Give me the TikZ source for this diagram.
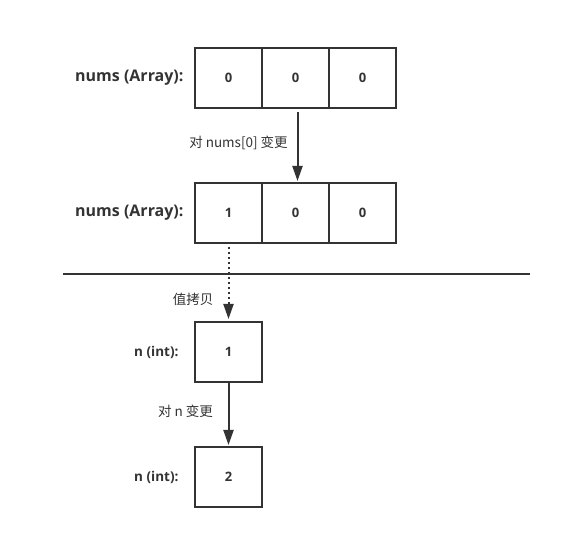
\documentclass[tikz,border=0pt]{standalone}
\usepackage{fontspec}
\setmainfont{Open Sans}
\newfontfamily\cjk{Noto Sans CJK SC}
\usetikzlibrary{arrows.meta}
\usetikzlibrary{positioning}
\definecolor{ink}{RGB}{51,51,51}

\begin{document}
\begin{tikzpicture}[x=1pt,y=-1pt,
        cell/.style={draw=ink, line width=2pt, minimum width=67pt, minimum height=60pt,
            inner sep=0pt, outer sep=0pt, text=ink, font=\fontsize{13}{15}\selectfont\bfseries},
        tag/.style={anchor=east, text=ink, font=\fontsize{16}{18}\selectfont\bfseries},
        smalltag/.style={anchor=east, text=ink, font=\fontsize{13.5}{15}\selectfont\bfseries},
        note/.style={text=ink, font=\cjk\fontsize{13.5}{15}\selectfont},
        arr/.style={draw=ink, line width=2pt, -{Triangle[length=15pt,width=10pt]}}]
        \useasboundingbox (0,0) rectangle (563,540);
        % nums before the change
        \node[cell] (a1) at (228.5,78) {0};
        \node[cell] (a2) at (295.5,78) {0};
        \node[cell] (a3) at (362.5,78) {0};
        \node[tag] (numsA) at (187,78) {nums (Array):};
        % nums after the change
        \node[cell] (b1) at (228.5,213) {1};
        \node[cell] (b2) at (295.5,213) {0};
        \node[cell] (b3) at (362.5,213) {0};
        \node[tag] (numsB) at (187,213) {nums (Array):};
        \draw[arr, shorten <=4pt, shorten >=2pt] ([xshift=2pt]a2.south) -- ([xshift=2pt]b2.north);
        \node[note] (chgNums) at (238.5,143) {对 nums[0] 变更};
        % separator
        \coordinate (sepL) at (63,274);
        \coordinate (sepR) at (530,274);
        \draw[ink, line width=2pt] (sepL) -- (sepR);
        % n (int)
        \node[cell] (n1) at (228.5,352) {1};
        \node[smalltag] (intA) at (182,352) {n (int):};
        \node[cell] (n2) at (228.5,477) {2};
        \node[smalltag] (intB) at (182,477) {n (int):};
        \draw[arr, dash pattern=on 2pt off 3pt, shorten <=4pt, shorten >=3pt] (b1.south) -- (n1.north);
        \node[note] (copy) at (193,299) {值拷贝};
        \draw[arr, shorten >=2pt] (n1.south) -- (n2.north);
        \node[note] (chgN) at (185.5,411) {对 n 变更};
\end{tikzpicture}
\end{document}
